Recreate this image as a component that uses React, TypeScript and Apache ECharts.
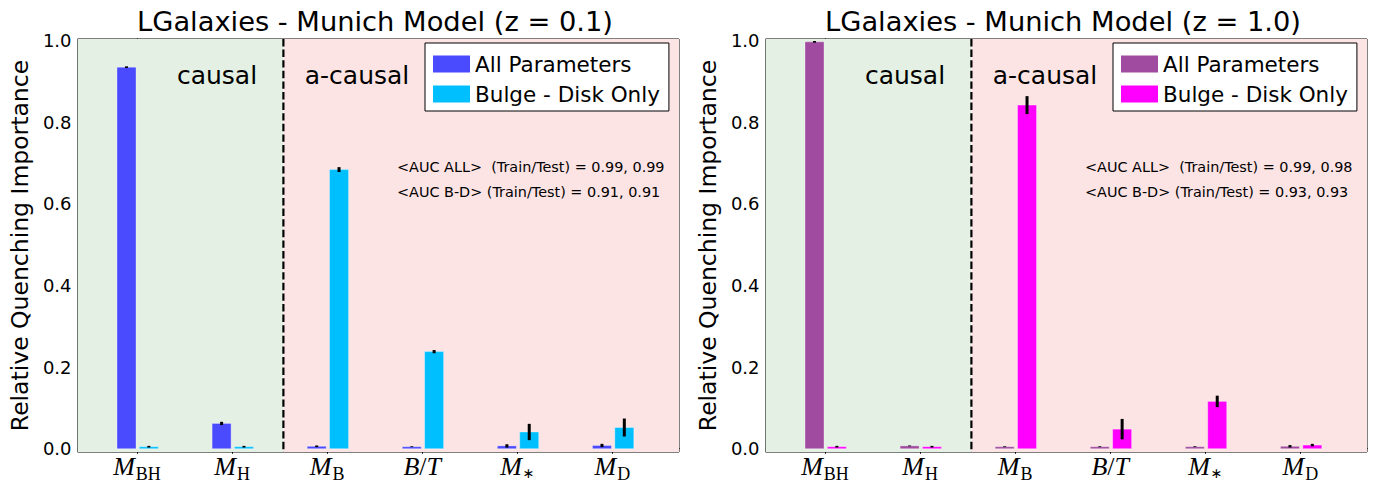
import React, { useEffect, useRef } from "react";
import * as echarts from "echarts";

// ---- data ----
const categories = ["M_BH", "M_H", "M_B", "B/T", "M_*", "M_D"];
const categoryLabels = [
  "{m|M}{s|BH}",
  "{m|M}{s|H}",
  "{m|M}{s|B}",
  "{m|B}{r|/}{m|T}",
  "{m|M}{a|∗}",
  "{m|M}{s|D}",
];
const yTicks = [0, 0.2, 0.4, 0.6, 0.8, 1.0];
const xTicks = [0, 1, 2, 3, 4, 5];

const z01All = [0.935, 0.062, 0.006, 0.005, 0.007, 0.008];
const z01AllErr = [0.002, 0.004, 0.002, 0.001, 0.004, 0.004];
const z01BD = [0.005, 0.005, 0.684, 0.238, 0.041, 0.052];
const z01BDErr = [0.002, 0.002, 0.006, 0.004, 0.02, 0.022];

const z10All = [0.997, 0.007, 0.005, 0.005, 0.005, 0.006];
const z10AllErr = [0.002, 0.001, 0.001, 0.001, 0.001, 0.003];
const z10BD = [0.005, 0.005, 0.842, 0.048, 0.116, 0.009];
const z10BDErr = [0.002, 0.002, 0.022, 0.025, 0.014, 0.003];

const SPLIT = 1.54;
const X_MIN = -0.625;
const X_MAX = 5.7;
const Y_MIN = -0.008;
const Y_MAX = 1.004;

const FONT = "DejaVu Sans";

type PanelProps = {
  title: string;
  all: number[];
  allErr: number[];
  bd: number[];
  bdErr: number[];
  colorAll: string;
  colorBD: string;
  aucAll: string;
  aucBD: string;
};

function barSeries(name: string, values: number[], errs: number[], color: string, x0: number, x1: number) {
  return {
    type: "custom",
    name,
    z: 3,
    clip: false,
    data: values.map((v, i) => [i, v, errs[i]]),
    encode: { x: 0, y: 1 },
    itemStyle: { color },
    renderItem: (_p: any, api: any) => {
      const i = api.value(0);
      const v = api.value(1);
      const e = api.value(2);
      const a = api.coord([i + x0, v]);
      const b = api.coord([i + x1, 0]);
      const xm = i + (x0 + x1) / 2;
      const e1 = api.coord([xm, v - e]);
      const e2 = api.coord([xm, v + e]);
      return {
        type: "group",
        children: [
          {
            type: "rect",
            shape: { x: a[0], y: a[1], width: b[0] - a[0], height: b[1] - a[1] },
            style: { fill: color, stroke: "rgba(255,255,255,0.35)", lineWidth: 1 },
          },
          {
            type: "line",
            shape: { x1: e1[0], y1: e1[1], x2: e2[0], y2: e2[1] },
            style: { stroke: "#000", lineWidth: 3 },
          },
        ],
      };
    },
  };
}

function Panel(props: PanelProps) {
  const ref = useRef<HTMLDivElement>(null);
  useEffect(() => {
    if (!ref.current) return;
    const chart = echarts.init(ref.current, undefined, { renderer: "svg" });
    const gridLeft = 71;
    const gridRight = 9;
    const gridTop = 39;
    const gridBottom = 27;
    const plotCenter = gridLeft + (688 - gridLeft - gridRight) / 2;
    const axisCommon = {
      axisLine: { show: true, lineStyle: { color: "#000", width: 1 } },
      splitLine: { show: false },
    };
    const option: any = {
      animation: false,
      textStyle: { fontFamily: FONT },
      grid: {
        left: gridLeft,
        right: gridRight,
        top: gridTop,
        bottom: gridBottom,
        show: true,
        borderColor: "#000",
        borderWidth: 1,
        backgroundColor: "transparent",
      },
      xAxis: [
        {
          type: "value",
          min: X_MIN,
          max: X_MAX,
          position: "bottom",
          ...axisCommon,
          axisTick: { show: true, inside: true, length: 5, customValues: xTicks, lineStyle: { color: "#000" } },
          axisLabel: {
            show: true,
            customValues: xTicks,
            margin: 1,
            color: "#000",
            formatter: (v: number) => categoryLabels[Math.round(v)] ?? "",
            rich: {
              m: { fontFamily: "Liberation Serif", fontStyle: "italic", fontSize: 26, color: "#000", lineHeight: 26 },
              r: { fontFamily: "Liberation Serif", fontSize: 26, color: "#000", lineHeight: 26 },
              s: { fontFamily: "Liberation Serif", fontSize: 18, color: "#000", lineHeight: 18, padding: [12, 0, 0, 1], verticalAlign: "top" },
              a: { fontFamily: FONT, fontSize: 14, color: "#000", lineHeight: 14, padding: [13, 0, 0, 1], verticalAlign: "top" },
            },
          },
        },
        {
          type: "value",
          min: X_MIN,
          max: X_MAX,
          position: "top",
          ...axisCommon,
          axisTick: { show: true, inside: true, length: 5, customValues: xTicks, lineStyle: { color: "#000" } },
          axisLabel: { show: false },
        },
      ],
      yAxis: [
        {
          type: "value",
          min: Y_MIN,
          max: Y_MAX,
          position: "left",
          ...axisCommon,
          name: "Relative Quenching Importance",
          nameLocation: "middle",
          nameGap: 40,
          nameTextStyle: { fontFamily: FONT, fontSize: 23.5, color: "#000" },
          axisTick: { show: true, inside: true, length: 5, customValues: yTicks, lineStyle: { color: "#000" } },
          axisLabel: {
            show: true,
            customValues: yTicks,
            margin: 6,
            color: "#000",
            fontSize: 18,
            fontFamily: FONT,
            formatter: (v: number) => v.toFixed(1),
          },
        },
        {
          type: "value",
          min: Y_MIN,
          max: Y_MAX,
          position: "right",
          ...axisCommon,
          axisTick: { show: true, inside: true, length: 5, customValues: yTicks, lineStyle: { color: "#000" } },
          axisLabel: { show: false },
        },
      ],
      legend: {
        left: 425,
        top: 43,
        orient: "vertical",
        selectedMode: false,
        backgroundColor: "#fff",
        borderColor: "#000",
        borderWidth: 1,
        borderRadius: 0,
        padding: [10, 9, 6, 8],
        itemWidth: 37,
        itemHeight: 17,
        itemGap: 8,
        itemTextGap: 10,
        textStyle: { fontFamily: FONT, fontSize: 21.5, color: "#000" },
        data: [
          { name: "All Parameters", icon: "rect", itemStyle: { color: props.colorAll } },
          { name: "Bulge - Disk Only", icon: "rect", itemStyle: { color: props.colorBD } },
        ],
      },
      graphic: [
        {
          type: "text",
          x: plotCenter,
          y: 21,
          style: {
            text: props.title,
            fontFamily: FONT,
            fontSize: 27.3,
            fill: "#000",
            textAlign: "center",
            textVerticalAlign: "middle",
          },
        },
        {
          type: "text",
          x: 217,
          y: 75,
          z: 10,
          style: { text: "causal", fontFamily: FONT, fontSize: 25, fill: "#000", textAlign: "center", textVerticalAlign: "middle" },
        },
        {
          type: "text",
          x: 357,
          y: 75,
          z: 10,
          style: { text: "a-causal", fontFamily: FONT, fontSize: 25, fill: "#000", textAlign: "center", textVerticalAlign: "middle" },
        },
        {
          type: "text",
          x: 397,
          y: 167,
          z: 10,
          style: { text: props.aucAll, fontFamily: FONT, fontSize: 14.4, fill: "#000", textAlign: "left", textVerticalAlign: "middle" },
        },
        {
          type: "text",
          x: 397,
          y: 192,
          z: 10,
          style: { text: props.aucBD, fontFamily: FONT, fontSize: 14.4, fill: "#000", textAlign: "left", textVerticalAlign: "middle" },
        },
      ],
      series: [
        {
          type: "custom",
          name: "bg",
          z: 1,
          silent: true,
          clip: false,
          data: [[SPLIT, 0]],
          encode: { x: 0, y: 1 },
          renderItem: (_p: any, api: any) => {
            const tl = api.coord([X_MIN, Y_MAX]);
            const sp = api.coord([api.value(0), Y_MIN]);
            const br = api.coord([X_MAX, Y_MIN]);
            return {
              type: "group",
              children: [
                { type: "rect", shape: { x: tl[0], y: tl[1], width: sp[0] - tl[0], height: br[1] - tl[1] }, style: { fill: "#e4f0e3" } },
                { type: "rect", shape: { x: sp[0], y: tl[1], width: br[0] - sp[0], height: br[1] - tl[1] }, style: { fill: "#fde4e4" } },
                {
                  type: "line",
                  shape: { x1: sp[0], y1: tl[1], x2: sp[0], y2: br[1] },
                  style: { stroke: "#000", lineWidth: 2.2, lineDash: [7.4, 3.2] },
                },
              ],
            };
          },
        },
        barSeries("All Parameters", props.all, props.allErr, props.colorAll, -0.21, -0.01),
        barSeries("Bulge - Disk Only", props.bd, props.bdErr, props.colorBD, 0.025, 0.225),
      ],
    };
    chart.setOption(option);
    return () => chart.dispose();
  }, [props]);
  return <div ref={ref} style={{ width: 688, height: 483 }} />;
}

export default function App() {
  return (
    <div style={{ position: "absolute", left: 0, top: 0, width: 1376, height: 483, display: "flex", background: "#fff" }}>
      <Panel
        title="LGalaxies - Munich Model (z = 0.1)"
        all={z01All}
        allErr={z01AllErr}
        bd={z01BD}
        bdErr={z01BDErr}
        colorAll="#4a4aff"
        colorBD="#00bfff"
        aucAll="<AUC ALL>  (Train/Test) = 0.99, 0.99"
        aucBD="<AUC B-D> (Train/Test) = 0.91, 0.91"
      />
      <Panel
        title="LGalaxies - Munich Model (z = 1.0)"
        all={z10All}
        allErr={z10AllErr}
        bd={z10BD}
        bdErr={z10BDErr}
        colorAll="#a04aa0"
        colorBD="#ff00ff"
        aucAll="<AUC ALL>  (Train/Test) = 0.99, 0.98"
        aucBD="<AUC B-D> (Train/Test) = 0.93, 0.93"
      />
    </div>
  );
}
